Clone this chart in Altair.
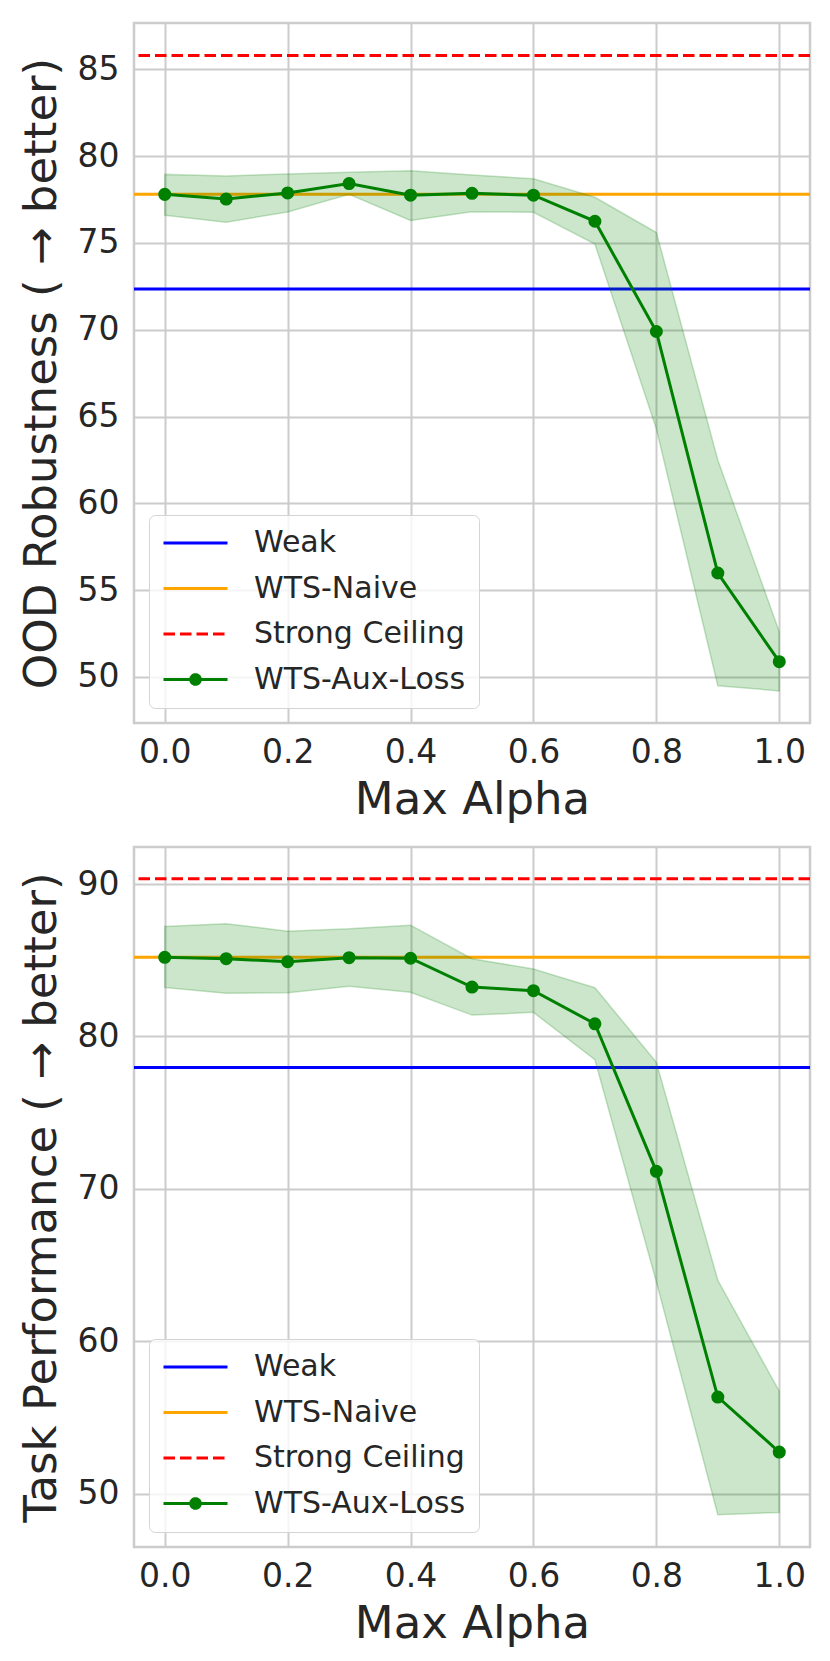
import altair as alt
import pandas as pd

alpha = [0.0, 0.1, 0.2, 0.3, 0.4, 0.5, 0.6, 0.7, 0.8, 0.9, 1.0]
series = ["Weak", "WTS-Naive", "Strong Ceiling", "WTS-Aux-Loss"]
colors = ["#0000ff", "#ffa500", "#ff0000", "#008000"]
dashes = [[1, 0], [1, 0], [11.5, 5], [1, 0]]

# legend glyphs: plain stroke, and stroke with a dot for the aux-loss run
line_sym = "M-1,0H1"
dot_sym = "M-1,0H1M0.15,0A0.15,0.15,0,1,1,-0.15,0A0.15,0.15,0,1,1,0.15,0Z"
shapes = [line_sym, line_sym, line_sym, dot_sym]

# OOD robustness
ood_mean = [77.8, 77.53, 77.88, 78.42, 77.75, 77.86, 77.75, 76.25, 69.9, 55.99, 50.88]
ood_hi = [78.95, 78.86, 78.97, 79.07, 79.16, 78.91, 78.7, 77.63, 75.6, 62.5, 52.6]
ood_lo = [76.6, 76.2, 76.78, 77.8, 76.3, 76.8, 76.77, 74.94, 64.3, 49.5, 49.2]
ood_base = [72.35, 77.8, 85.8]
ood_ticks = [50, 55, 60, 65, 70, 75, 80, 85]

# task performance
task_mean = [85.19, 85.1, 84.9, 85.17, 85.13, 83.24, 83.0, 80.83, 71.15, 56.34, 52.73]
task_hi = [87.22, 87.4, 86.91, 87.06, 87.3, 85.1, 84.42, 83.2, 78.3, 64.0, 56.72]
task_lo = [83.21, 82.84, 82.86, 83.3, 82.9, 81.4, 81.58, 78.47, 63.9, 48.62, 48.77]
task_base = [77.96, 85.19, 90.35]
task_ticks = [50, 60, 70, 80, 90]


def panel(mean, hi, lo, base, ydomain, yticks, ytitle):
    runs = pd.DataFrame({"alpha": alpha, "mean": mean, "hi": hi, "lo": lo,
                         "series": "WTS-Aux-Loss"})
    refs = pd.DataFrame({"series": series[:3], "value": base})
    keys = pd.DataFrame({"series": series, "alpha": 0.5, "value": base + [mean[0]]})

    xscale = alt.Scale(domain=[-0.05, 1.05], nice=False, zero=False)
    xaxis = alt.Axis(values=[0, 0.2, 0.4, 0.6, 0.8, 1.0], format=".1f", title="Max Alpha")
    yscale = alt.Scale(domain=ydomain, nice=False, zero=False)
    yaxis = alt.Axis(values=yticks, title=ytitle)
    color = alt.Color("series:N", scale=alt.Scale(domain=series, range=colors),
                      legend=alt.Legend(title=None))

    rules = alt.Chart(refs).mark_rule(strokeWidth=3).encode(
        y=alt.Y("value:Q", scale=yscale, axis=yaxis),
        color=color,
        strokeDash=alt.StrokeDash("series:N", scale=alt.Scale(domain=series, range=dashes),
                                  legend=alt.Legend(title=None)),
    )
    band = alt.Chart(runs).mark_area(
        fill="#008000", fillOpacity=0.2, stroke="#008000", strokeOpacity=0.22, strokeWidth=1.5
    ).encode(
        x=alt.X("alpha:Q", scale=xscale, axis=xaxis),
        y=alt.Y("lo:Q", scale=yscale, axis=yaxis),
        y2="hi:Q",
    )
    line = alt.Chart(runs).mark_line(strokeWidth=3).encode(
        x=alt.X("alpha:Q", scale=xscale, axis=xaxis),
        y=alt.Y("mean:Q", scale=yscale, axis=yaxis),
        color=color,
    )
    dots = alt.Chart(runs).mark_point(filled=True, size=170, opacity=1).encode(
        x=alt.X("alpha:Q", scale=xscale, axis=xaxis),
        y=alt.Y("mean:Q", scale=yscale, axis=yaxis),
        color=color,
    )
    # invisible layer that only feeds the legend glyph shapes
    key = alt.Chart(keys).mark_point(filled=True, opacity=0).encode(
        x=alt.X("alpha:Q", scale=xscale, axis=xaxis),
        y=alt.Y("value:Q", scale=yscale, axis=yaxis),
        color=color,
        shape=alt.Shape("series:N", scale=alt.Scale(domain=series, range=shapes),
                        legend=alt.Legend(title=None)),
    )
    return alt.layer(rules, band, line, dots, key).properties(width=676, height=700)


top = panel(ood_mean, ood_hi, ood_lo, ood_base, [47.35, 87.67], ood_ticks,
            "OOD Robustness ( \u2192 better)")
bottom = panel(task_mean, task_hi, task_lo, task_base, [46.5, 92.43], task_ticks,
               "Task Performance ( \u2192 better)")

chart = (
    alt.vconcat(top, bottom, spacing=21)
    .resolve_scale(color="independent", strokeDash="independent", shape="independent")
    .properties(padding={"left": 9, "top": 13, "right": 5, "bottom": 5})
    .configure(font="DejaVu Sans")
    .configure_view(stroke="#cccccc", strokeWidth=2.5)
    .configure_axis(
        domain=False, ticks=False, grid=True, gridColor="#cccccc", gridWidth=2,
        labelFontSize=33, labelColor="#262626", titleFontSize=45,
        titleFontWeight="normal", titleColor="#262626",
    )
    .configure_axisX(labelPadding=13, titlePadding=8)
    .configure_axisY(labelPadding=15, titlePadding=13)
    .configure_legend(
        orient="bottom-left", offset=15, padding=13, fillColor="rgba(255,255,255,0.8)",
        strokeColor="#d4d4d4", cornerRadius=6, labelFontSize=30, labelColor="#262626",
        labelLimit=500, symbolSize=4096, symbolStrokeWidth=3, symbolOpacity=1,
        labelOffset=25, rowPadding=15.5, clipHeight=30,
    )
)

chart.save("out.html", embed_options={"renderer": "svg", "actions": False})
